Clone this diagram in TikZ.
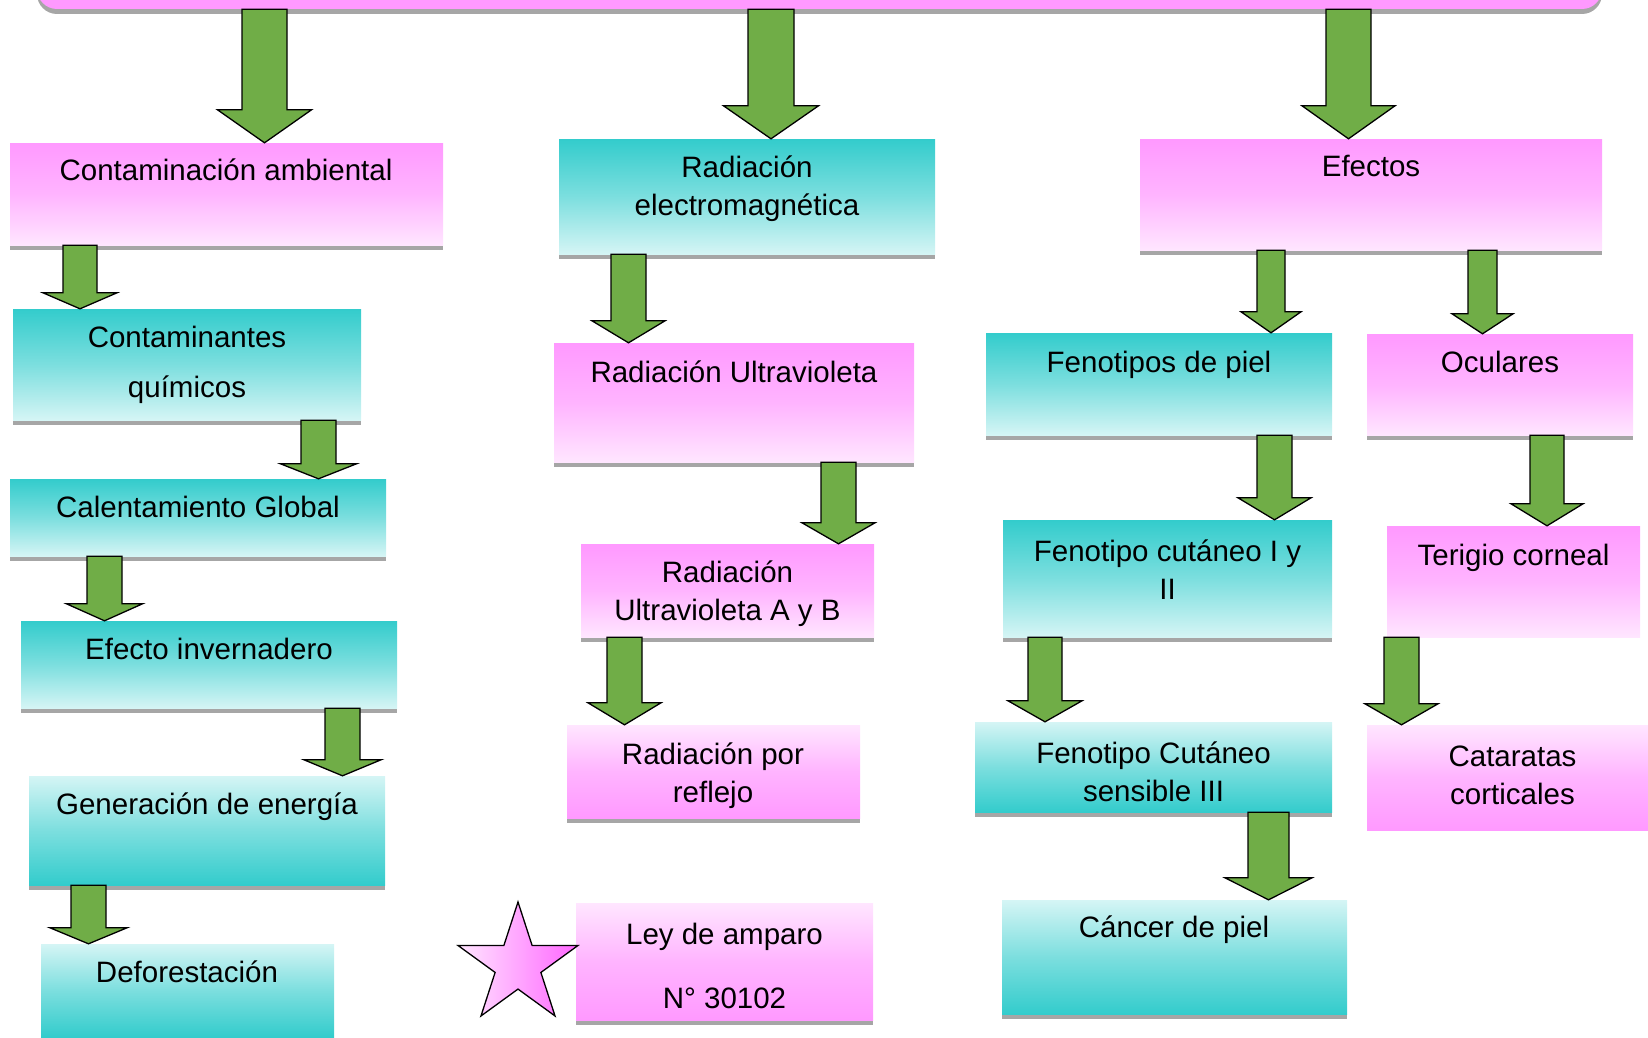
\documentclass[tikz,border=0pt]{standalone}
\usepackage{fontspec}
\setmainfont{Liberation Sans}
\usetikzlibrary{calc,shadows,shapes.geometric}

\definecolor{rosa}{HTML}{FF99FF}
\definecolor{rosaclaro}{HTML}{FFE6FF}
\definecolor{rosafuerte}{HTML}{FF66FF}
\definecolor{turquesa}{HTML}{33CCCC}
\definecolor{turqclaro}{HTML}{D5F5F5}
\definecolor{verde}{HTML}{70AD47}
\definecolor{gris}{HTML}{A6A6A6}

\tikzset{
  sombra/.style={general shadow={fill=gris, shadow yshift=-5pt}},
  rosa baja/.style={rectangle, top color=rosa, bottom color=rosaclaro, middle color=rosa!65!rosaclaro},
  rosa sube/.style={rectangle, top color=rosaclaro, bottom color=rosa, middle color=rosa!65!rosaclaro},
  turq baja/.style={rectangle, top color=turquesa, bottom color=turqclaro, middle color=turquesa!55!turqclaro},
  turq sube/.style={rectangle, top color=turqclaro, bottom color=turquesa, middle color=turquesa!55!turqclaro},
  texto/.style={font=\fontsize{29.5}{38}\selectfont, align=center, yshift=-2.5pt},
  linea/.style={font=\fontsize{29.5}{38}\selectfont, text height=21pt, text depth=0pt},
  flecha/.style n args={3}{draw=black, line width=1.3pt, fill=verde,
    to path={let \p1=(\tikztostart), \p2=(\tikztotarget) in
      (\x1-#1,\y1) -- (\x1+#1,\y1) -- (\x1+#1,\y2+#3) -- (\x1+#2,\y2+#3)
      -- (\x1,\y2) -- (\x1-#2,\y2+#3) -- (\x1-#1,\y2+#3) -- cycle}}
}

\begin{document}
\begin{tikzpicture}
  [x=1pt,y=-1pt,every node/.style={inner sep=0pt}]
  \useasboundingbox (0,0) rectangle (1648,1038);
  \clip (0,0) rectangle (1648,1038);

  \node[sombra, fill=rosa, rounded corners=20pt, minimum width=1565, minimum height=100] (titulo) at (819.5,-41) {};

  % columna izquierda
  \node[rosa baja, sombra, minimum width=433, minimum height=102] (amb) at (226.5,194) {};
  \node[turq baja, sombra, minimum width=348, minimum height=111] (quim) at (187,364.5) {};
  \node[turq baja, sombra, minimum width=376, minimum height=77] (cal) at (198,517.5) {};
  \node[turq baja, sombra, minimum width=376, minimum height=87] (inv) at (209,664.5) {};
  \node[turq sube, sombra, minimum width=356, minimum height=109] (gen) at (207,830.5) {};
  \node[turq sube, sombra, minimum width=293, minimum height=93] (defo) at (187.5,990.5) {};

  % columna central
  \node[turq baja, sombra, minimum width=376, minimum height=115] (elec) at (747,196.5) {};
  \node[rosa baja, sombra, minimum width=360, minimum height=119] (uv) at (734,402.5) {};
  \node[rosa baja, sombra, minimum width=293, minimum height=93] (uvab) at (727.5,590.5) {};
  \node[rosa sube, sombra, minimum width=293, minimum height=93] (refl) at (713.5,771.5) {};
  \node[rosa sube, sombra, minimum width=297, minimum height=117] (ley) at (724.5,961.5) {};
  \node[star, star points=5, star point ratio=2.618, minimum size=126, draw=black, line width=1.3pt,
        left color=rosaclaro, right color=rosafuerte] (estrella) at (518,965) {};

  % columna derecha
  \node[rosa baja, sombra, minimum width=462, minimum height=111] (efec) at (1371,194.5) {};
  \node[turq baja, sombra, minimum width=346, minimum height=102] (fen) at (1159,384) {};
  \node[rosa baja, sombra, minimum width=266, minimum height=101] (ocu) at (1500,384.5) {};
  \node[turq baja, sombra, minimum width=329, minimum height=117] (fenI) at (1167.5,578.5) {};
  \node[rosa baja, minimum width=253, minimum height=111] (ter) at (1513.5,581.5) {};
  \node[turq sube, sombra, minimum width=357, minimum height=90] (fenIII) at (1153.5,767) {};
  \node[rosa sube, minimum width=291, minimum height=105] (cat) at (1512.5,777.5) {};
  \node[turq sube, sombra, minimum width=345, minimum height=114] (can) at (1174.5,957) {};

  % textos
  \node[linea] (amb-t) at (226,170) {Contaminación ambiental};
  \node[texto] (quim-t) at (187,362) {Contaminantes\\[12pt]químicos};
  \node[linea] (cal-t) at (198,507) {Calentamiento Global};
  \node[linea] (inv-t) at (209,649) {Efecto invernadero};
  \node[linea] (gen-t) at (207,804) {Generación de energía};
  \node[linea] (defo-t) at (187,972) {Deforestación};
  \node[texto] (elec-t) at (747,186) {Radiación\\electromagnética};
  \node[linea] (uv-t) at (734,372) {Radiación Ultravioleta};
  \node[texto] (uvab-t) at (727.5,591.5) {Radiación\\Ultravioleta A y B};
  \node[texto] (refl-t) at (713,773) {Radiación por\\reflejo};
  \node[texto] (ley-t) at (724.5,963) {Ley de amparo\\[26pt]N° 30102};
  \node[linea] (efec-t) at (1371,166) {Efectos};
  \node[linea] (fen-t) at (1159,362) {Fenotipos de piel};
  \node[linea] (ocu-t) at (1500,362) {Oculares};
  \node[texto] (fenI-t) at (1167.5,567.5) {Fenotipo cutáneo I y\\II};
  \node[linea] (ter-t) at (1513.5,555) {Terigio corneal};
  \node[texto] (fenIII-t) at (1153.5,769) {Fenotipo Cutáneo\\sensible III};
  \node[texto] (cat-t) at (1512.5,773) {Cataratas\\corticales};
  \node[linea] (can-t) at (1174,927) {Cáncer de piel};

  % flechas
  \foreach \de/\a/\px/\sw/\hw/\hl in {titulo/amb/264.5/22.5/47/33, titulo/elec/771/23/47.5/33,
      titulo/efec/1348.5/22.5/46.5/33, amb/quim/80/17/37/16, quim/cal/318.5/17.5/38/15,
      cal/inv/104.5/17.5/38/17, inv/gen/342.5/17.5/38.5/16, gen/defo/88.5/17.5/38.5/16,
      elec/uv/628.5/17.5/36.5/22, uv/uvab/838.5/17.5/36.5/21, uvab/refl/624.5/17.5/36.5/22,
      efec/fen/1271/14/30/21, efec/ocu/1482.5/14.5/30.5/20, fen/fenI/1274.5/17.5/36.5/22,
      fenI/fenIII/1045/17/37/21, fenIII/can/1268.5/20.5/43.5/22, ocu/ter/1547/17/36/22,
      ter/cat/1401.5/17.5/36.5/21}
  {
    \coordinate (ini) at (\de.south -| \px,0);
    \coordinate (fin) at (\a.north -| \px,0);
    \draw[flecha={\sw pt}{\hw pt}{\hl pt}] (ini) to (fin);
  }

\end{tikzpicture}
\end{document}
